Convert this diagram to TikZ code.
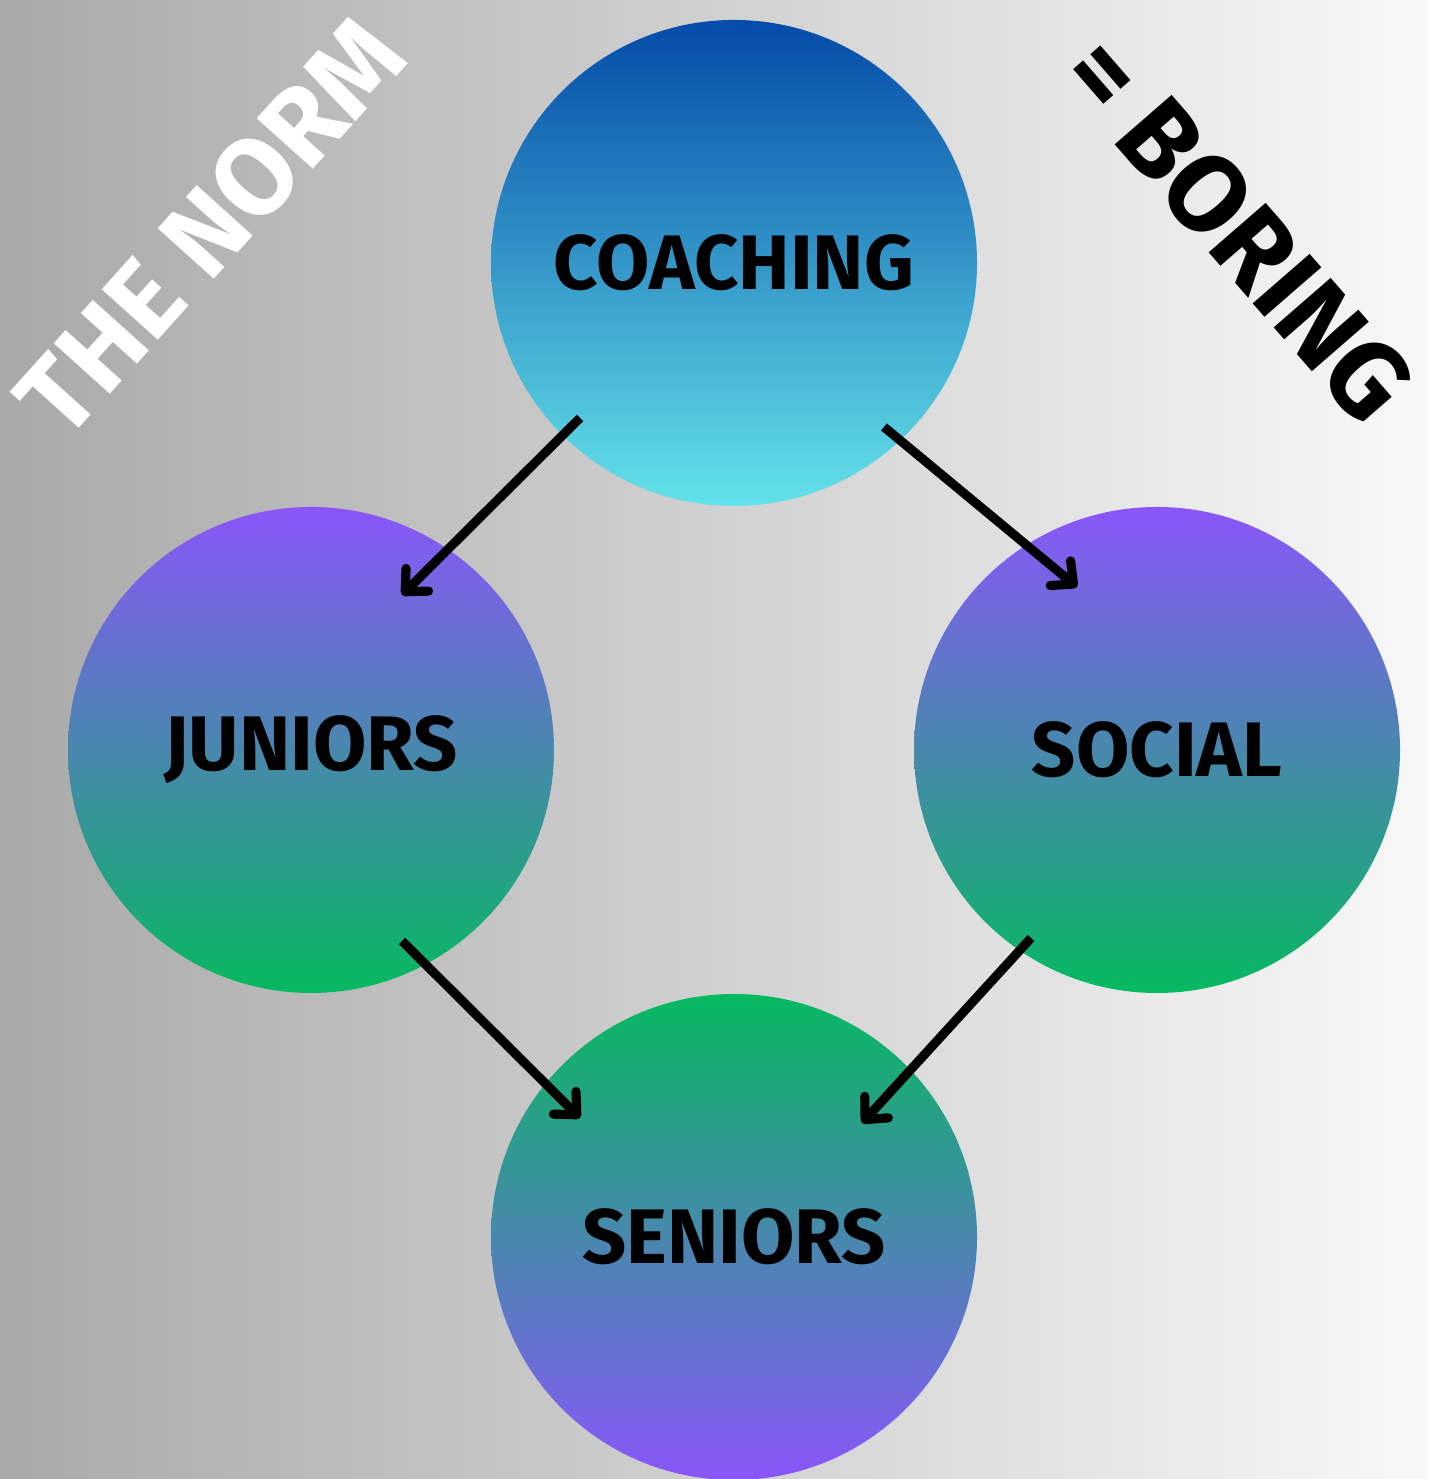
\documentclass[tikz,border=0pt]{standalone}
\usepackage{fontspec}
\setmainfont{Fira Sans}
\usepackage{tikz}
\usetikzlibrary{arrows.meta}

\definecolor{bgleft}{HTML}{A9A9A9}
\definecolor{bgright}{HTML}{F8F8F8}
\definecolor{deepblue}{HTML}{054BA9}
\definecolor{paleaqua}{HTML}{63E2E8}
\definecolor{circpurple}{HTML}{8A56FA}
\definecolor{circgreen}{HTML}{06B960}

\begin{document}
\begin{tikzpicture}[
    ball/.style={circle, inner sep=0pt, minimum size=4.86cm, font=\fontsize{22}{26}\selectfont\bfseries},
    bluegreen/.style={ball, top color=deepblue, bottom color=paleaqua},
    purplegreen/.style={ball, top color=circpurple, bottom color=circgreen},
    greenpurple/.style={ball, top color=circgreen, bottom color=circpurple},
    slogan/.style={font=\fontsize{31}{36}\selectfont\bfseries},
    arrow/.style={line width=2.6pt, -{Straight Barb[length=0.17cm, width=0.32cm, round]}}]

    \useasboundingbox (0,0) rectangle (14.28,14.79);
    \shade[left color=bgleft, right color=bgright] (0,0) rectangle (14.28,14.79);

    \node[bluegreen] (coaching) at (7.34,12.16) {COACHING};
    \node[purplegreen] (juniors) at (3.11,7.29) {JUNIORS};
    \node[purplegreen] (social) at (11.57,7.29) {SOCIAL};
    \node[greenpurple] (seniors) at (7.34,2.42) {SENIORS};

    \node[slogan, white, rotate=48] (norm) at (2.10,12.52) {THE NORM};
    \node[slogan, black, rotate=-49] (boring) at (12.38,12.50) {= BORING};

    \draw[arrow] ([shift={(-1.54,-1.55)}]coaching.center) -- ([shift={(0.91,1.55)}]juniors.center);
    \draw[arrow] ([shift={(1.50,-1.64)}]coaching.center) -- ([shift={(-0.80,1.63)}]social.center);
    \draw[arrow] ([shift={(0.91,-1.91)}]juniors.center) -- ([shift={(-1.54,1.19)}]seniors.center);
    \draw[arrow] ([shift={(-1.26,-1.88)}]social.center) -- ([shift={(1.28,1.14)}]seniors.center);
\end{tikzpicture}
\end{document}
